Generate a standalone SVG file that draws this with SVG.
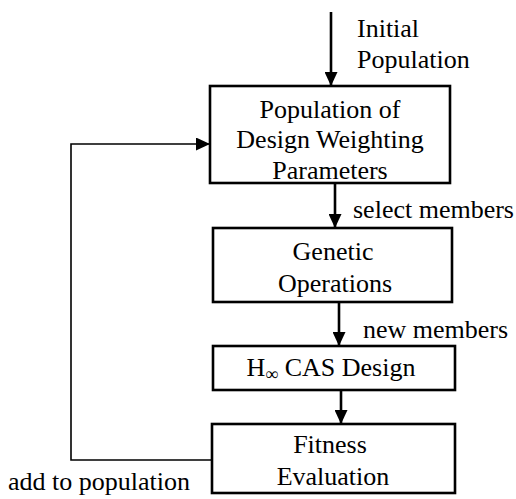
<svg xmlns="http://www.w3.org/2000/svg" width="516" height="499" viewBox="0 0 516 499">
<style>
text{font-family:"Liberation Serif","Times New Roman",serif;font-size:26px;fill:#000}
.c{text-anchor:middle}
.box{fill:#fff;stroke:#000;stroke-width:2.6}
.arr{fill:none;stroke:#000;stroke-width:2.6}
.fb{fill:none;stroke:#000;stroke-width:1.6}
</style>
<defs>
<marker id="ah" viewBox="0 0 14 13" refX="14" refY="6.5" markerWidth="14" markerHeight="13" markerUnits="userSpaceOnUse" orient="auto">
<path d="M0,0 L14,6.5 L0,13 z" fill="#000"/>
</marker>
</defs>
<rect width="516" height="499" fill="#fff"/>
<g id="connectors">
<path class="arr" d="M331,12 V86" marker-end="url(#ah)"/>
<path class="arr" d="M335,183 V228" marker-end="url(#ah)"/>
<path class="arr" d="M339,302 V346" marker-end="url(#ah)"/>
<path class="arr" d="M341,390 V424" marker-end="url(#ah)"/>
<path class="fb" d="M212,460 H71 V144 H210" marker-end="url(#ah)"/>
<text x="357" y="37">Initial</text>
<text x="357" y="68">Population</text>
<text x="353" y="218">select members</text>
<text x="363" y="338">new members</text>
<text x="8" y="490">add to population</text>
</g>
<g id="population">
<rect class="box" x="210" y="86" width="240" height="97"/>
<text class="c" x="330" y="118">Population of</text>
<text class="c" x="330" y="148">Design Weighting</text>
<text class="c" x="330" y="179">Parameters</text>
</g>
<g id="genetic">
<rect class="box" x="213" y="228" width="239" height="74"/>
<text class="c" x="333" y="260">Genetic</text>
<text class="c" x="335" y="292">Operations</text>
</g>
<g id="hinf">
<rect class="box" x="213" y="346" width="242" height="44"/>
<text class="c" x="331" y="376">H<tspan font-size="18" dy="4">∞</tspan><tspan dy="-4"> CAS Design</tspan></text>
</g>
<g id="fitness">
<rect class="box" x="212" y="424" width="243" height="69"/>
<text class="c" x="330" y="453">Fitness</text>
<text class="c" x="333" y="485">Evaluation</text>
</g>
</svg>
